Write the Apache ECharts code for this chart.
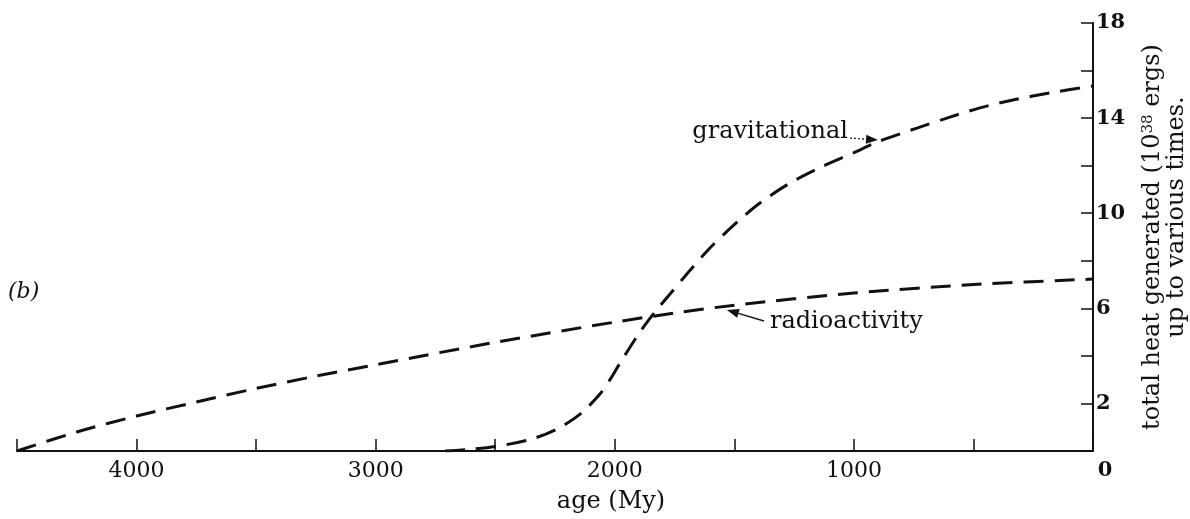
<!DOCTYPE html>
<html>
<head>
<meta charset="utf-8">
<script src="https://cdn.jsdelivr.net/npm/echarts@6/dist/echarts.min.js"></script>
<style>
  html, body { margin: 0; padding: 0; background: #fff; }
  #chart { width: 1190px; height: 519px; }
</style>
</head>
<body>
<div id="chart"></div>
<script>
// Ages in millions of years before present; heat in units of 10^38 ergs.
const radioAge  = [4500, 4250, 4000, 3750, 3500, 3250, 3000, 2500, 2000, 1750, 1500, 1000, 500, 0];
const radioHeat = [0, 0.80, 1.47, 2.06, 2.63, 3.15, 3.63, 4.57, 5.42, 5.80, 6.13, 6.64, 7.00, 7.23];

const gravAge  = [2710, 2605, 2480, 2342, 2242, 2145, 2062, 2020, 1978, 1895, 1832, 1769, 1685, 1602, 1497, 1393, 1267, 1142, 1004, 891, 736, 611, 473, 335, 180, 0];
const gravHeat = [0, 0.07, 0.22, 0.52, 0.92, 1.55, 2.40, 3.00, 3.70, 5.00, 5.85, 6.60, 7.60, 8.54, 9.55, 10.43, 11.27, 11.92, 12.53, 13.04, 13.58, 14.00, 14.43, 14.76, 15.06, 15.35];

const xLabelValues = [4000, 3000, 2000, 1000, 0];
const yLabelValues = [2, 6, 10, 14, 18];

// Callout text, anchored in data coordinates [age, heat]
const gravNote  = { text: 'gravitational', at: [1025, 13.42], from: [1016, 13.16], to: [899, 13.08] };
const radioNote = { text: 'radioactivity', at: [1351, 5.43],  from: [1376, 5.47],  to: [1531, 5.93] };

const SERIF = '"DejaVu Serif", "Liberation Serif", serif';
const INK = '#111';

function pairs(xs, ys) { return xs.map((x, i) => [x, ys[i]]); }

const chart = echarts.init(document.getElementById('chart'), null, { renderer: 'canvas' });

const option = {
  backgroundColor: '#fff',
  animation: false,
  grid: { left: 17, right: 97, top: 23, bottom: 68, containLabel: false, outerBoundsMode: 'none' },
  xAxis: {
    type: 'value',
    inverse: true,
    min: 0, max: 4500, interval: 500,
    name: 'age (My)',
    nameLocation: 'middle',
    nameGap: 39,
    nameTextStyle: { fontFamily: SERIF, fontSize: 24, color: INK, padding: [0, 0, 0, 112] },
    axisLine: { show: true, onZero: false, lineStyle: { color: INK, width: 2 } },
    axisTick: { show: true, inside: true, length: 12, lineStyle: { color: INK, width: 1.5 } },
    splitLine: { show: false },
    axisLabel: {
      show: true, showMinLabel: true, showMaxLabel: true, hideOverlap: false,
      margin: 9,
      fontFamily: SERIF, fontSize: 22, color: INK,
      formatter: v => {
        if (v === 0) return '{z|0}';
        return xLabelValues.includes(v) ? String(v) : '';
      },
      rich: { z: { fontFamily: SERIF, fontSize: 21, fontWeight: 'bold', color: INK, padding: [0, 0, 0, 24] } }
    }
  },
  yAxis: {
    type: 'value',
    position: 'right',
    min: 0, max: 18, interval: 2,
    name: '{t|total heat generated (10}{s|38}{t| ergs)}\n{u|up to various times.}',
    nameLocation: 'middle',
    nameRotate: 90,
    nameGap: 48,
    nameTextStyle: {
      color: INK,
      rich: {
        t: { fontFamily: SERIF, fontSize: 24, color: INK, lineHeight: 24 },
        s: { fontFamily: SERIF, fontSize: 15, color: INK, lineHeight: 24, verticalAlign: 'top', padding: [0, 0, 10, 0] },
        u: { fontFamily: SERIF, fontSize: 24, color: INK, lineHeight: 24, padding: [0, 0, 0, 40] }
      }
    },
    axisLine: { show: true, lineStyle: { color: INK, width: 2 } },
    axisTick: { show: true, inside: true, length: 12, lineStyle: { color: INK, width: 1.5 } },
    splitLine: { show: false },
    axisLabel: {
      show: true, margin: 3, hideOverlap: false,
      fontFamily: SERIF, fontSize: 21, fontWeight: 'bold', color: INK,
      formatter: v => (yLabelValues.includes(v) ? String(v) : '')
    }
  },
  series: [
    {
      name: 'radioactivity',
      type: 'line',
      data: pairs(radioAge, radioHeat),
      smooth: 0.3,
      showSymbol: false,
      lineStyle: { color: INK, width: 3, type: [20, 11] }
    },
    {
      name: 'gravitational',
      type: 'line',
      data: pairs(gravAge, gravHeat),
      smooth: 0.3,
      showSymbol: false,
      lineStyle: { color: INK, width: 3, type: [20, 11] }
    }
  ]
};

chart.setOption(option);

// Callouts: placed through the chart's own coordinate conversion
function px(p) { return chart.convertToPixel({ seriesIndex: 0 }, p); }

function arrow(note, dashed) {
  const a = px(note.from), b = px(note.to);
  const ang = Math.atan2(b[1] - a[1], b[0] - a[0]);
  const L = 12, W = 4.5;
  const bx = b[0] - L * Math.cos(ang), by = b[1] - L * Math.sin(ang);
  const nx = -Math.sin(ang) * W, ny = Math.cos(ang) * W;
  return [
    { type: 'line', shape: { x1: a[0], y1: a[1], x2: bx, y2: by },
      style: { stroke: INK, lineWidth: dashed ? 1.2 : 1.5, lineDash: dashed ? [2, 2] : null } },
    { type: 'polygon', shape: { points: [[b[0], b[1]], [bx + nx, by + ny], [bx - nx, by - ny]] },
      style: { fill: INK } }
  ];
}

const gAt = px(gravNote.at), rAt = px(radioNote.at);
chart.setOption({
  graphic: [
    { type: 'text', left: 8, top: 281,
      style: { text: '(b)', font: 'italic 22px ' + SERIF, fill: INK } },
    { type: 'text', x: gAt[0], y: gAt[1],
      style: { text: gravNote.text, font: '24px ' + SERIF, fill: INK, align: 'right', verticalAlign: 'middle' } },
    { type: 'text', x: rAt[0], y: rAt[1],
      style: { text: radioNote.text, font: '24px ' + SERIF, fill: INK, align: 'left', verticalAlign: 'middle' } },
    ...arrow(gravNote, true),
    ...arrow(radioNote, false)
  ]
});
</script>
</body>
</html>
